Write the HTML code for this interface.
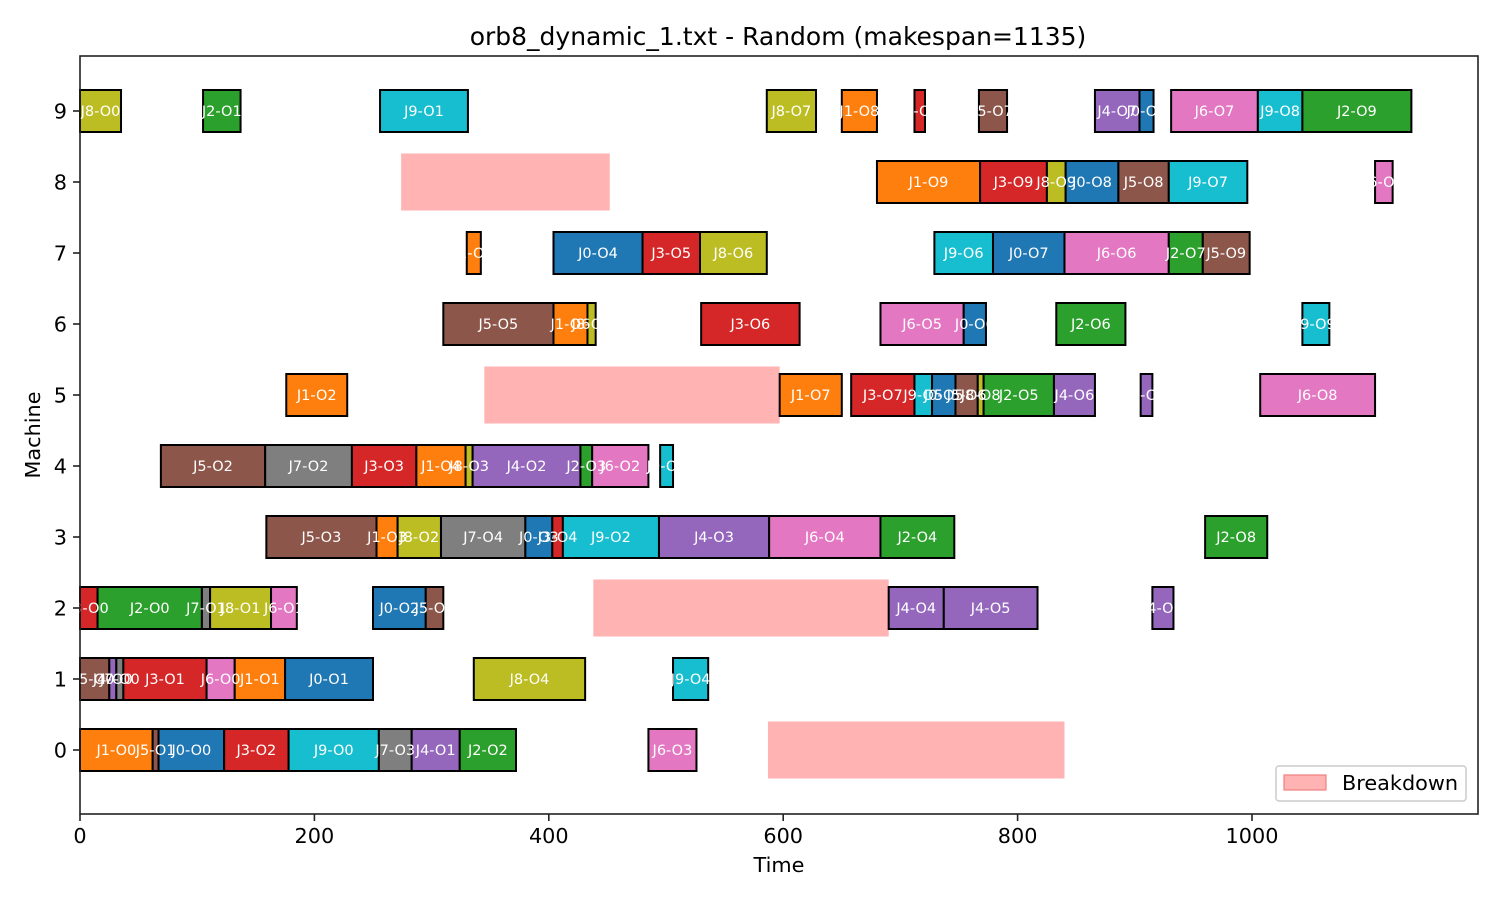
<!DOCTYPE html>
<html><head><meta charset="utf-8"><style>
body{margin:0;background:#fff;}
svg text{font-family:"DejaVu Sans","Liberation Sans",sans-serif;}
</style></head><body>
<svg id="chart" width="1500" height="900" xmlns="http://www.w3.org/2000/svg">
<rect width="1500" height="900" fill="#fff"/>
<text x="778" y="45" font-size="25" text-anchor="middle" fill="#000">orb8_dynamic_1.txt - Random (makespan=1135)</text>
<g id="marks"></g>
<g id="axes"></g>
<text x="779" y="872" font-size="20.8" text-anchor="middle">Time</text>
<text x="40" y="435" font-size="20.8" text-anchor="middle" transform="rotate(-90 40 435)">Machine</text>
<g>
<rect x="1276" y="766" width190="" width="190" height="35" rx="3" fill="#fff" fill-opacity="0.8" stroke="#ccc" stroke-width="1.5"/>
<rect x="1284" y="775" width="42" height="15" fill="#ffb3b3" stroke="#f08080" stroke-width="1.2"/>
<text x="1342" y="790" font-size="20.8">Breakdown</text>
</g>
</svg>
<script>
const machines=[9,9,9,9,9,9,9,9,9,9,9,9, 8,8,8,8,8,8,8, 7,7,7,7,7,7,7,7,7, 6,6,6,6,6,6,6,6, 5,5,5,5,5,5,5,5,5,5,5, 4,4,4,4,4,4,4,4,4, 3,3,3,3,3,3,3,3,3,3,3, 2,2,2,2,2,2,2,2,2,2, 1,1,1,1,1,1,1,1,1, 0,0,0,0,0,0,0,0,0];
const labels=["J8-O0","J2-O1","J9-O1","J8-O7","J1-O8","J3-O8","J5-O7","J4-O7","J0-O9","J6-O7","J9-O8","J2-O9",
"J1-O9","J3-O9","J8-O9","J0-O8","J5-O8","J9-O7","J6-O9",
"J1-O5","J0-O4","J3-O5","J8-O6","J9-O6","J0-O7","J6-O6","J2-O7","J5-O9",
"J5-O5","J1-O6","J8-O5","J3-O6","J6-O5","J0-O6","J2-O6","J9-O9",
"J1-O2","J1-O7","J3-O7","J9-O5","J0-O5","J5-O6","J8-O8","J2-O5","J4-O6","J4-O8","J6-O8",
"J5-O2","J7-O2","J3-O3","J1-O4","J8-O3","J4-O2","J2-O3","J6-O2","J9-O3",
"J5-O3","J1-O3","J8-O2","J7-O4","J0-O3","J3-O4","J9-O2","J4-O3","J6-O4","J2-O4","J2-O8",
"J3-O0","J2-O0","J7-O1","J8-O1","J6-O1","J0-O2","J5-O4","J4-O4","J4-O5","J4-O9",
"J5-O0","J4-O0","J7-O0","J3-O1","J6-O0","J1-O1","J0-O1","J8-O4","J9-O4",
"J1-O0","J5-O1","J0-O0","J3-O2","J9-O0","J7-O3","J4-O1","J2-O2","J6-O3"];
const starts=[0,105,256,586,650,712,767,866,904,931,1005,1043,
680,768,825,841,886,929,1105,
330,404,480,529,729,779,840,929,958,
310,404,433,530,683,754,833,1043,
176,597,658,712,727,747,766,771,831,905,1007,
69,158,232,287,329,335,427,437,495,
159,253,271,308,380,403,412,494,588,683,960,
0,15,104,111,163,250,295,690,737,915,
0,25,31,37,108,132,175,336,506,
0,62,67,123,178,255,283,324,485];
const ends=[35,137,331,628,680,721,791,904,916,1005,1043,1136,
768,825,841,886,929,996,1120,
342,480,529,586,779,840,929,958,998,
404,433,440,614,754,773,892,1066,
228,650,712,727,747,766,771,831,866,915,1105,
158,232,287,329,335,427,437,485,506,
253,271,308,380,403,412,494,588,683,746,1013,
15,104,111,163,185,295,310,737,817,933,
25,31,37,108,132,175,250,431,536,
62,67,123,178,255,283,324,372,526];
const bdMachines=[8,5,2,0];
const bdStarts=[274,345,438,587];
const bdEnds=[452,597,690,840];
const xTicks=[0,200,400,600,800,1000];
const yTicks=[0,1,2,3,4,5,6,7,8,9];
const colors=["#1f77b4","#ff7f0e","#2ca02c","#d62728","#9467bd","#8c564b","#e377c2","#7f7f7f","#bcbd22","#17becf"];

const NS="http://www.w3.org/2000/svg";
const X0=80,X1=1478,Y0=56,Y1=814;
const xScale=t=>80+t*1.172;
const yScale=m=>750-m*71;
function mk(tag,attrs,parent){const e=document.createElementNS(NS,tag);for(const k in attrs)e.setAttribute(k,attrs[k]);parent.appendChild(e);return e;}
const marks=document.getElementById('marks');
const axes=document.getElementById('axes');
bdMachines.forEach((m,i)=>{
  const r=mk('rect',{x:xScale(bdStarts[i]),y:yScale(m)-28.5,width:xScale(bdEnds[i])-xScale(bdStarts[i]),height:57,fill:'#ffb3b3'},marks);
  
  
});
machines.forEach((m,i)=>{
  const j=parseInt(labels[i].slice(1));
  const r=mk('rect',{x:xScale(starts[i]),y:yScale(m)-21,width:xScale(ends[i])-xScale(starts[i]),height:42,fill:colors[j],stroke:'#000','stroke-width':2},marks);
  
  
});
machines.forEach((m,i)=>{
  const t=mk('text',{x:(xScale(starts[i])+xScale(ends[i]))/2,y:yScale(m)+5,'font-size':14.5,'text-anchor':'middle',fill:'#fff'},marks);
  t.textContent=labels[i];
  
  
});
const frame=mk('rect',{x:X0,y:Y0,width:X1-X0,height:Y1-Y0,fill:'none',stroke:'#222','stroke-width':1.6},axes);


xTicks.forEach(v=>{
  const x=xScale(v);
  mk('line',{x1:x,y1:Y1,x2:x,y2:Y1+7,stroke:'#222','stroke-width':1.6},axes);
  const t=mk('text',{x:x,y:Y1+29,'font-size':20.8,'text-anchor':'middle'},axes);
  t.textContent=v;
  
  
});
yTicks.forEach(v=>{
  const y=yScale(v);
  mk('line',{x1:X0-7,y1:y,x2:X0,y2:y,stroke:'#222','stroke-width':1.6},axes);
  const t=mk('text',{x:X0-13,y:y+7.5,'font-size':20.8,'text-anchor':'end'},axes);
  t.textContent=v;
  
  
});
</script>
</body></html>
